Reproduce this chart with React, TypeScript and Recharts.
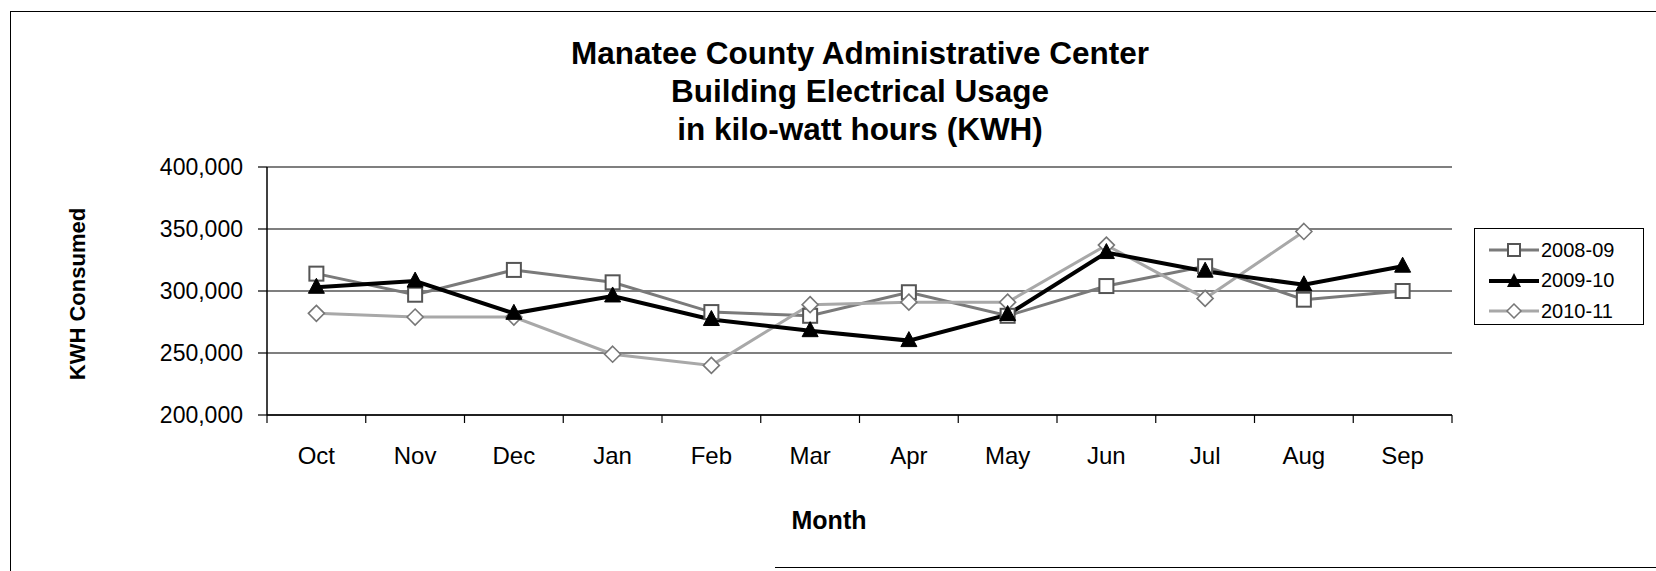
import React from 'react';
import { LineChart, Line, XAxis, YAxis, CartesianGrid, Legend } from 'recharts';

const months = ['Oct', 'Nov', 'Dec', 'Jan', 'Feb', 'Mar', 'Apr', 'May', 'Jun', 'Jul', 'Aug', 'Sep'];
const s0809 = [314000, 297000, 317000, 307000, 283000, 280000, 299000, 280000, 304000, 320000, 293000, 300000];
const s0910 = [303000, 308000, 282000, 296000, 277000, 268000, 260000, 281000, 331000, 316000, 305000, 320000];
const s1011 = [282000, 279000, 279000, 249000, 240000, 289000, 291000, 291000, 337000, 294000, 348000, null];
const yTicks = [200000, 250000, 300000, 350000, 400000];
const seriesNames = ['2008-09', '2009-10', '2010-11'];
const titleLines = ['Manatee County Administrative Center', 'Building Electrical Usage', 'in kilo-watt hours (KWH)'];

const data = months.map((m, i) => ({ month: m, a: s0809[i], b: s0910[i], c: s1011[i] }));

const W = 1656;
const H = 571;
const PLOT_L = 267;
const PLOT_R = 1452;
const PLOT_T = 167;
const PLOT_B = 415;
const YAXIS_W = 90;
const XAXIS_H = 60;
const BW = (PLOT_R - PLOT_L) / months.length;
const FONT = '"Liberation Sans", Arial, Helvetica, sans-serif';

const C_A = '#7a7a7a';
const C_B = '#000000';
const C_C = '#a8a8a8';

const SquareDot = (p: any) => {
  const { cx, cy } = p;
  if (cx == null || cy == null || p.value == null) return <g />;
  return <rect x={cx - 7} y={cy - 7} width={14} height={14} fill="#fff" stroke="#555" strokeWidth={2} />;
};
const TriDot = (p: any) => {
  const { cx, cy } = p;
  if (cx == null || cy == null || p.value == null) return <g />;
  return <polygon points={`${cx},${cy - 9} ${cx + 8},${cy + 6} ${cx - 8},${cy + 6}`} fill="#000" stroke="#000" />;
};
const DiaDot = (p: any) => {
  const { cx, cy } = p;
  if (cx == null || cy == null || p.value == null) return <g />;
  return <polygon points={`${cx},${cy - 8} ${cx + 8},${cy} ${cx},${cy + 8} ${cx - 8},${cy}`} fill="#fff" stroke="#777" strokeWidth={1.6} />;
};

const XTick = (props: any) => {
  const { x, y, payload, index } = props;
  const last = index === months.length - 1;
  return (
    <g>
      <line x1={x - BW / 2} y1={y} x2={x - BW / 2} y2={y + 8} stroke="#000" strokeWidth={1.2} />
      {last && <line x1={x + BW / 2} y1={y} x2={x + BW / 2} y2={y + 8} stroke="#000" strokeWidth={1.2} />}
      <text x={x} y={y + 41} dy="0.35em" textAnchor="middle" fontSize={24} fill="#000" fontFamily={FONT}>
        {payload.value}
      </text>
    </g>
  );
};

const legendSymbol = (i: number) => {
  const mid = 8;
  if (i === 0)
    return (
      <svg width={50} height={16}>
        <line x1={0} y1={mid} x2={50} y2={mid} stroke={C_A} strokeWidth={3} />
        <rect x={19} y={mid - 6} width={12} height={12} fill="#fff" stroke="#555" strokeWidth={2} />
      </svg>
    );
  if (i === 1)
    return (
      <svg width={50} height={16}>
        <line x1={0} y1={mid} x2={50} y2={mid} stroke={C_B} strokeWidth={4} />
        <polygon points={`25,${mid - 8} 32,${mid + 6} 18,${mid + 6}`} fill="#000" />
      </svg>
    );
  return (
    <svg width={50} height={16}>
      <line x1={0} y1={mid} x2={50} y2={mid} stroke={C_C} strokeWidth={3} />
      <polygon points={`25,${mid - 7} 32,${mid} 25,${mid + 7} 18,${mid}`} fill="#fff" stroke="#777" strokeWidth={1.5} />
    </svg>
  );
};

const LegendBox = () => (
  <div
    style={{
      width: 170,
      height: 97,
      border: '1.5px solid #000',
      boxSizing: 'border-box',
      background: '#fff',
      fontFamily: FONT,
      fontSize: 20,
      padding: '6px 0 0 14px',
    }}
  >
    {seriesNames.map((n, i) => (
      <div key={n} style={{ display: 'flex', alignItems: 'center', height: 30.5 }}>
        {legendSymbol(i)}
        <span style={{ marginLeft: 2, color: '#000' }}>{n}</span>
      </div>
    ))}
  </div>
);

export default function App() {
  return (
    <div style={{ position: 'absolute', left: 0, top: 0, width: W, height: H, background: '#fff', overflow: 'hidden', fontFamily: FONT }}>
      {/* outer frame */}
      <div style={{ position: 'absolute', left: 10, top: 11, width: W, height: H, borderTop: '1.5px solid #000', borderLeft: '1.5px solid #000' }} />
      <div style={{ position: 'absolute', left: 775, top: 567, width: W - 775, height: 0, borderTop: '1.5px solid #000' }} />

      <div style={{ position: 'absolute', left: 0, top: 0 }}>
        <LineChart
          width={W}
          height={H}
          data={data}
          margin={{ top: PLOT_T, right: W - PLOT_R, bottom: H - PLOT_B - XAXIS_H, left: PLOT_L - YAXIS_W }}
        >
          <CartesianGrid vertical={false} stroke="#000" strokeWidth={1.2} />
          <XAxis
            dataKey="month"
            height={XAXIS_H}
            tickSize={0}
            tickMargin={0}
            tickLine={false}
            padding={{ left: BW / 2, right: BW / 2 }}
            axisLine={{ stroke: '#000', strokeWidth: 1.5 }}
            tick={<XTick />}
            interval={0}
          />
          <YAxis
            width={YAXIS_W}
            domain={[200000, 400000]}
            ticks={yTicks}
            tickFormatter={(v: number) => v.toLocaleString('en-US')}
            tickSize={9}
            tickMargin={15}
            tick={{ fontSize: 23, fill: '#000', fontFamily: FONT }}
            tickLine={{ stroke: '#000', strokeWidth: 1.2 }}
            axisLine={{ stroke: '#000', strokeWidth: 1.5 }}
            allowDataOverflow
          />
          <YAxis
            yAxisId="right"
            orientation="right"
            width={0}
            domain={[200000, 400000]}
            ticks={yTicks}
            tick={false}
            tickLine={false}
            axisLine={{ stroke: '#000', strokeWidth: 1.5 }}
          />
          <Legend
            layout="vertical"
            align="center"
            verticalAlign="middle"
            content={<LegendBox />}
            wrapperStyle={{ position: 'absolute', left: 1474, top: 228, width: 170, height: 97 }}
          />
          <Line dataKey="a" name={seriesNames[0]} stroke={C_A} strokeWidth={3} dot={(p: any) => <SquareDot key={`a${p.index}`} {...p} />} isAnimationActive={false} />
          <Line dataKey="c" name={seriesNames[2]} stroke={C_C} strokeWidth={3} dot={(p: any) => <DiaDot key={`c${p.index}`} {...p} />} isAnimationActive={false} />
          <Line dataKey="b" name={seriesNames[1]} stroke={C_B} strokeWidth={4} dot={(p: any) => <TriDot key={`b${p.index}`} {...p} />} isAnimationActive={false} />
        </LineChart>
      </div>

      {/* title */}
      <div style={{ position: 'absolute', left: 360, top: 34, width: 1000, textAlign: 'center', fontSize: 31.5, fontWeight: 'bold', lineHeight: '38px', color: '#000' }}>
        {titleLines.map((t) => (
          <div key={t}>{t}</div>
        ))}
      </div>

      {/* x axis title */}
      <div style={{ position: 'absolute', left: 729, top: 505, width: 200, textAlign: 'center', fontSize: 25, fontWeight: 'bold', lineHeight: '30px', color: '#000' }}>
        Month
      </div>

      {/* y axis title */}
      <div
        style={{
          position: 'absolute',
          left: 78 - 120,
          top: 294 - 15,
          width: 240,
          height: 30,
          lineHeight: '30px',
          textAlign: 'center',
          fontSize: 22,
          fontWeight: 'bold',
          color: '#000',
          transform: 'rotate(-90deg)',
          transformOrigin: '120px 15px',
        }}
      >
        KWH Consumed
      </div>
    </div>
  );
}
